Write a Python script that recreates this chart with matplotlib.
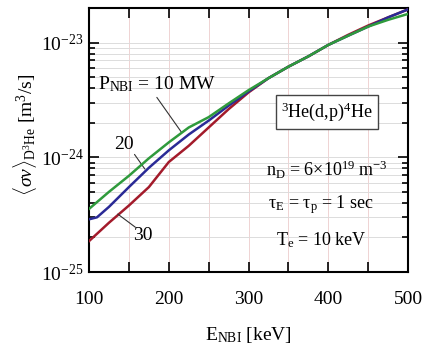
import matplotlib
matplotlib.use("Agg")
import matplotlib.pyplot as plt
from matplotlib.ticker import NullFormatter, LogLocator
import numpy as np

plt.rcParams['font.family'] = ['Liberation Serif', 'DejaVu Serif']
plt.rcParams['mathtext.fontset'] = 'custom'
plt.rcParams['mathtext.rm'] = 'Liberation Serif'
plt.rcParams['mathtext.it'] = 'Liberation Serif:italic'
plt.rcParams['mathtext.bf'] = 'Liberation Serif:bold'

# Data
E_keV = [100, 125, 150, 175, 200, 225, 250, 275, 300, 325, 350, 375, 400, 425, 450, 475, 500]
sv_10MW = [3.55e-25, 5.0e-25, 6.9e-25, 9.8e-25, 1.35e-24, 1.82e-24, 2.24e-24, 2.95e-24, 3.85e-24,
           4.9e-24, 6.17e-24, 7.59e-24, 9.55e-24, 1.15e-23, 1.38e-23, 1.58e-23, 1.78e-23]
E_keV_20 = [100, 110, 125, 150, 175, 200, 225, 250, 275, 300, 325, 350, 375, 400, 425, 450, 475, 500]
sv_20MW = [2.88e-25, 3.0e-25, 3.7e-25, 5.5e-25, 8.1e-25, 1.15e-24, 1.58e-24, 2.09e-24, 2.82e-24, 3.75e-24,
           4.9e-24, 6.17e-24, 7.59e-24, 9.55e-24, 1.15e-23, 1.38e-23, 1.66e-23, 1.95e-23]
sv_30MW = [1.86e-25, 2.69e-25, 3.8e-25, 5.5e-25, 9.1e-25, 1.26e-24, 1.82e-24, 2.63e-24, 3.68e-24,
           4.9e-24, 6.17e-24, 7.59e-24, 9.55e-24, 1.17e-23, 1.41e-23, 1.66e-23, 1.95e-23]

x_ticks = [100, 200, 300, 400, 500]
y_ticks = [1e-25, 1e-24, 1e-23]

fig = plt.figure(figsize=(4.26, 3.51), dpi=100)
ax = fig.add_axes([0.209, 0.225, 0.749, 0.752])

ax.plot(E_keV, sv_30MW, color='#a31b2b', lw=1.8, zorder=3)
ax.plot(E_keV_20, sv_20MW, color='#2a2a96', lw=1.8, zorder=4)
ax.plot(E_keV, sv_10MW, color='#2f9a3c', lw=1.8, zorder=5)

ax.set_yscale('log')
ax.set_xlim(100, 500)
ax.set_xticks(x_ticks)
ax.set_xticks(np.arange(150, 500, 100), minor=True)
ax.set_yticks(y_ticks)
ax.yaxis.set_minor_locator(LogLocator(base=10, subs=np.arange(2, 10)))
ax.yaxis.set_minor_formatter(NullFormatter())
ax.set_ylim(1e-25, 2e-23)

ax.xaxis.grid(True, which='both', color='#efd3d3', lw=0.7)
ax.yaxis.grid(True, which='both', color='#dcdcdc', lw=0.7)
ax.set_axisbelow(True)

ax.tick_params(which='both', direction='in', top=True, right=True, width=1.2, labelsize=14)
ax.tick_params(which='major', length=7)
ax.tick_params(which='minor', length=4)
ax.tick_params(axis='x', which='minor', length=7)
ax.tick_params(axis='x', pad=14)
ax.tick_params(axis='y', pad=4)
for s in ax.spines.values():
    s.set_linewidth(1.5)

ax.set_xlabel(r'E$_{\mathrm{NBI}}$ [keV]', fontsize=14)
ax.set_ylabel(r'$\langle\sigma v\rangle_{\mathrm{D^3He}}$ [m$^3$/s]', fontsize=14)
ax.xaxis.set_label_coords(0.5, -0.2)
ax.yaxis.set_label_coords(-0.158, 0.52)

# Annotations
ax.text(0.213, 0.71, r'P$_{\mathrm{NBI}}$ = 10 MW', transform=ax.transAxes, fontsize=14,
        ha='center', va='center')
ax.annotate('', xy=(216, 1.65e-24), xytext=(185, 3.33e-24),
            arrowprops=dict(arrowstyle='-', color='#333333', lw=0.8, shrinkA=0, shrinkB=0))
ax.text(144, 1.3e-24, '20', fontsize=14, ha='center', va='center')
ax.annotate('', xy=(170, 7.9e-25), xytext=(157, 1.06e-24),
            arrowprops=dict(arrowstyle='-', color='#333333', lw=0.8, shrinkA=0, shrinkB=0))
ax.text(168, 2.1e-25, '30', fontsize=14, ha='center', va='center')
ax.annotate('', xy=(158, 2.46e-25), xytext=(136, 3.2e-25),
            arrowprops=dict(arrowstyle='-', color='#333333', lw=0.8, shrinkA=0, shrinkB=0))

ax.text(0.746, 0.606, r'$^3$He(d,p)$^4$He', transform=ax.transAxes, fontsize=13,
        ha='center', va='center',
        bbox=dict(boxstyle='square,pad=0.3', fc='white', ec='#444444', lw=1.0))
ax.text(0.746, 0.386, r'n$_{\mathrm{D}}$ = 6×10$^{19}$ m$^{-3}$', transform=ax.transAxes,
        fontsize=13, ha='center', va='center')
ax.text(0.727, 0.254, r'τ$_{\mathrm{E}}$ = τ$_{\mathrm{p}}$ = 1 sec', transform=ax.transAxes,
        fontsize=13, ha='center', va='center')
ax.text(0.727, 0.121, r'T$_{\mathrm{e}}$ = 10 keV', transform=ax.transAxes,
        fontsize=13, ha='center', va='center')

fig.savefig('out.png', dpi=100)
